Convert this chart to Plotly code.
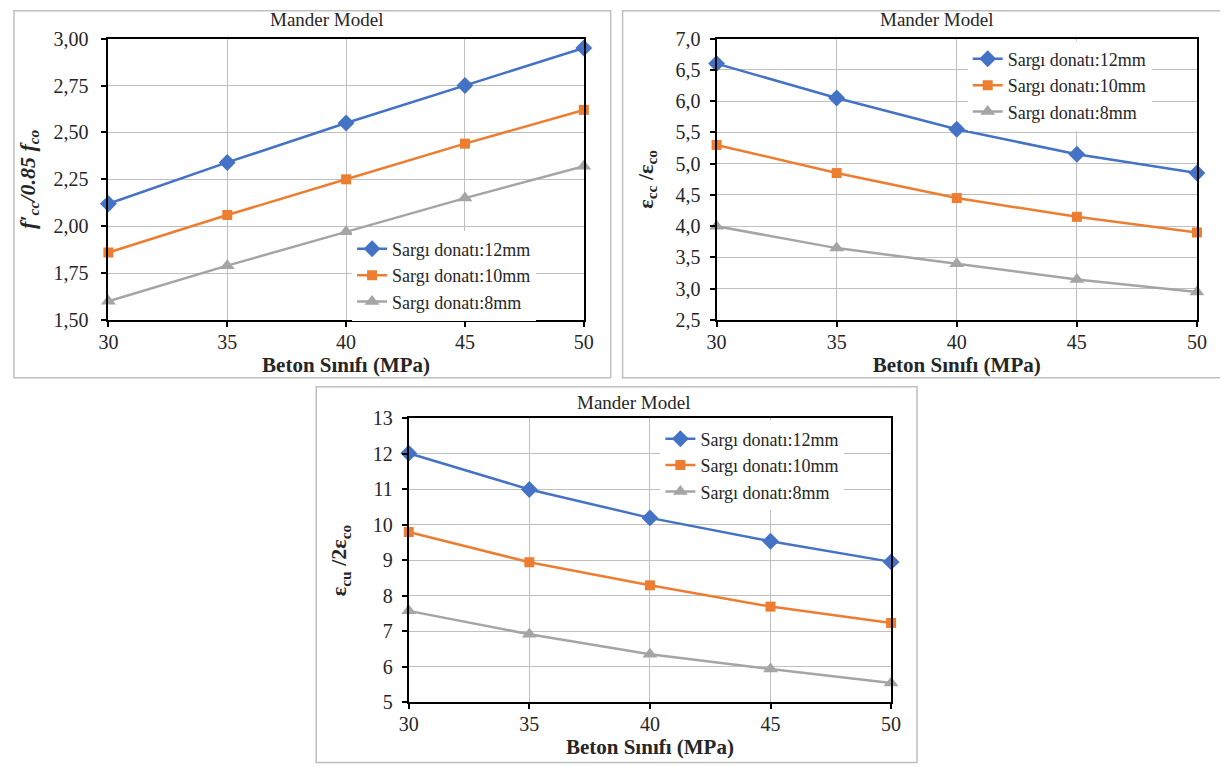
import plotly.graph_objects as go

# ---------------- data ----------------
beton_sinifi = [30, 35, 40, 45, 50]
series_names = ["Sargı donatı:12mm", "Sargı donatı:10mm", "Sargı donatı:8mm"]

fcc_12 = [2.12, 2.34, 2.55, 2.75, 2.95]
fcc_10 = [1.86, 2.06, 2.25, 2.44, 2.62]
fcc_8 = [1.60, 1.79, 1.97, 2.15, 2.32]

ecc_12 = [6.60, 6.05, 5.55, 5.15, 4.85]
ecc_10 = [5.30, 4.85, 4.45, 4.15, 3.90]
ecc_8 = [4.00, 3.65, 3.40, 3.15, 2.95]

ecu_12 = [12.02, 11.00, 10.20, 9.54, 8.96]
ecu_10 = [9.80, 8.95, 8.30, 7.70, 7.24]
ecu_8 = [7.58, 6.92, 6.36, 5.94, 5.55]

y_ticks_1 = [1.50, 1.75, 2.00, 2.25, 2.50, 2.75, 3.00]
y_ticks_2 = [2.5, 3.0, 3.5, 4.0, 4.5, 5.0, 5.5, 6.0, 6.5, 7.0]
y_ticks_3 = [5, 6, 7, 8, 9, 10, 11, 12, 13]

# ---------------- style ----------------
W, H = 1228, 767
# measured placement of the paper area inside the captured window
OX, SX = 14.1, 0.9891
OY, SY = 17.3, 0.97667

FONT = "Liberation Serif, Times New Roman, serif"
TXT = "#262626"
colors = ["#4472C4", "#ED7D31", "#A5A5A5"]
symbols = ["diamond", "square", "triangle-up"]
msizes = [13, 10, 13]
GRID = "#C0C0C0"

def px(x):
    return (x - OX) / SX / W

def py(y):
    return 1 - (y - OY) / SY / H

fig = go.Figure()

panels = [
    dict(data=[fcc_12, fcc_10, fcc_8], xa="x", ya="y", legend="legend"),
    dict(data=[ecc_12, ecc_10, ecc_8], xa="x2", ya="y2", legend="legend2"),
    dict(data=[ecu_12, ecu_10, ecu_8], xa="x3", ya="y3", legend="legend3"),
]

for p in panels:
    for i, vals in enumerate(p["data"]):
        fig.add_trace(go.Scatter(
            x=beton_sinifi, y=vals, name=series_names[i],
            mode="lines+markers",
            line=dict(color=colors[i], width=2.5),
            marker=dict(symbol=symbols[i], size=msizes[i], color=colors[i]),
            xaxis=p["xa"], yaxis=p["ya"], legend=p["legend"],
            cliponaxis=False,
        ))

def xaxis(domain, anchor):
    return dict(
        domain=domain, anchor=anchor, range=[30, 50],
        tickvals=beton_sinifi, showgrid=True, gridcolor=GRID, gridwidth=1,
        showline=True, linecolor="black", linewidth=2, mirror=True,
        ticks="outside", ticklen=5, tickcolor="black", tickwidth=1.5,
        ticklabelstandoff=-2,
        tickfont=dict(family=FONT, size=20, color=TXT),
        title=dict(text="<b>Beton Sınıfı (MPa)</b>",
                   font=dict(family=FONT, size=21, color=TXT), standoff=0),
        zeroline=False,
    )

def yaxis(domain, anchor, rng, ticks, fmt, title, standoff, lstand):
    return dict(
        domain=domain, anchor=anchor, range=rng,
        tickvals=ticks, tickformat=fmt, showgrid=True, gridcolor=GRID, gridwidth=1,
        showline=True, linecolor="black", linewidth=2, mirror=True,
        ticks="outside", ticklen=5, tickcolor="black", tickwidth=1.5,
        ticklabelstandoff=lstand,
        tickfont=dict(family=FONT, size=20, color=TXT),
        title=dict(text=title, font=dict(family=FONT, size=22, color=TXT), standoff=standoff),
        zeroline=False,
    )

ydom_top = [py(320), py(37)]
legend_font = dict(family=FONT, size=18, color=TXT)
fig.update_layout(
    width=W, height=H,
    margin=dict(l=0, r=0, t=0, b=0),
    paper_bgcolor="white", plot_bgcolor="white",
    separators=",.",
    font=dict(family=FONT, size=18, color=TXT),
    xaxis=xaxis([px(105), px(583)], "y"),
    yaxis=yaxis(ydom_top, "x", [1.5, 3.0], y_ticks_1, ".2f",
                "<b><i>f′<sub>cc</sub>/0.85 f<sub>co</sub></i></b>", 12, 9),
    xaxis2=xaxis([px(716.5), px(1199.5)], "y2"),
    yaxis2=yaxis(ydom_top, "x2", [2.5, 7.0], y_ticks_2, ".1f",
                 "<b>ε<sub>cc</sub> /ε<sub>co</sub></b>", 16, 5),
    xaxis3=xaxis([px(407), px(892)], "y3"),
    yaxis3=yaxis([py(704.5), py(419)], "x3", [5, 13], y_ticks_3, "d",
                 "<b>ε<sub>cu</sub> /2ε<sub>co</sub></b>", 20, 5),
    legend=dict(x=px(350), y=py(230), xanchor="left", yanchor="top",
                bgcolor="white", font=legend_font),
    legend2=dict(x=px(969), y=py(39), xanchor="left", yanchor="top",
                 bgcolor="white", font=legend_font),
    legend3=dict(x=px(660), y=py(421), xanchor="left", yanchor="top",
                 bgcolor="white", font=legend_font),
    showlegend=True,
)

# outer chart frames
boxes = [(10, 9, 610, 378), (622, 9, 1226, 378), (314, 387, 918, 765)]
for (x0, y0, x1, y1) in boxes:
    fig.add_shape(type="rect", xref="paper", yref="paper",
                  x0=px(x0), x1=px(x1), y0=py(y1), y1=py(y0),
                  line=dict(color="#BFBFBF", width=1.5), fillcolor="rgba(0,0,0,0)", layer="below")

# chart titles
for (cx, cy) in [(324, 18), (938, 18), (633, 403)]:
    fig.add_annotation(text="Mander Model", xref="paper", yref="paper",
                       x=px(cx), y=py(cy), xanchor="center", yanchor="middle",
                       showarrow=False, font=dict(family=FONT, size=19, color=TXT))

fig.write_html("out.html", config={"displayModeBar": False})
